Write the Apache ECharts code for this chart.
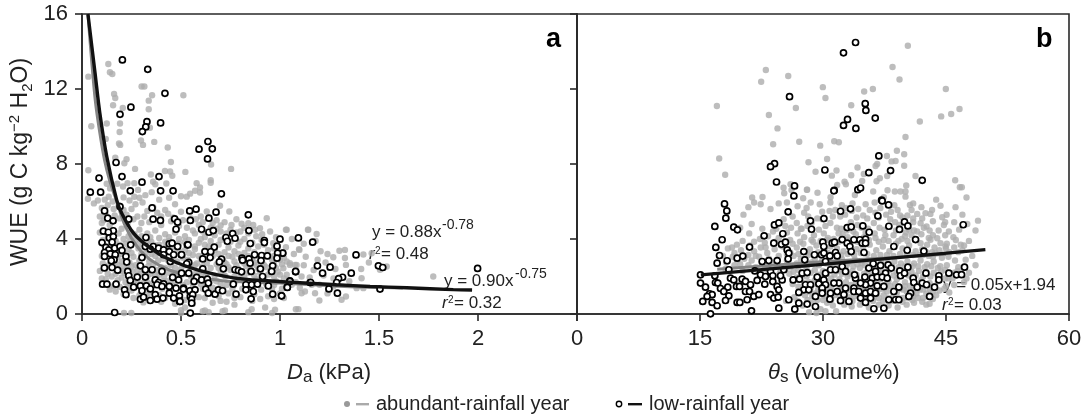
<!DOCTYPE html>
<html><head><meta charset="utf-8">
<style>html,body{margin:0;padding:0;background:#fff}#c{width:1092px;height:416px}</style>
<script src="https://cdn.jsdelivr.net/npm/echarts@6/dist/echarts.min.js"></script>
</head><body><div id="c"></div>
<script>
const xTicksA = ['0','0.5','1','1.5','2',''];
const xTicksB = ['0','15','30','45','60'];
const yTicks = ['0','4','8','12','16'];

const abundantA = [
[.133,13.33],[.032,12.66],[.141,12.89],[.153,12.8],[.301,12.13],[.315,12.13],[.354,11.67],[.512,11.67],[.162,11.74],[.168,11.52],[.337,11.38],[.157,11.13],[.206,10.99],[.337,10.92],[.047,10.01],[.125,10.16],[.192,10.16],[.19,9.71],[.343,9.93],[.298,9.25],[.12,9.34],[.308,9.02],[.365,9.18],[.187,9.09],[.193,9.02],[.433,8.88],[.168,8.34],[.225,8.26],[.214,8.04],[.449,8.11],[.652,7.97],[.032,7.67],[.268,7.74],[.753,7.74],[.522,7.58],[.348,7.44],[.419,7.63],[.445,7.6],[.456,7.37],[.359,7.06],[.579,6.98],[.65,7.14],[.65,7.0],
[.125,6.95],[.142,6.7],[.178,6.95],[.207,6.8],[.23,6.98],[.264,6.98],[.426,6.96],[.37,6.92],[.352,6.5],[.546,6.42],[.596,6.75],[.596,6.48],[.283,6.62],[.264,6.25],[.29,6.2],[.32,6.34],[.5,6.28],[.03,6.15],[.06,5.9],[.08,6.05],[.1,5.65],[.135,6.25],[.155,6.0],[.21,6.22],[.24,6.05],[.27,5.85],[.306,5.95],[.39,6.1],[.44,6.2],[.47,5.85],[.529,6.26],[.571,6.57],[.63,5.47],[.697,5.77],[.744,5.47],[.933,5.11],[.806,4.81],[.84,4.84],[.865,4.75],[.899,4.58],[.874,4.49],[1.03,4.49],[1.143,4.49],[1.034,4.49],[1.141,4.49],[1.185,4.27],
[.12,5.3],[.16,5.6],[.21,5.55],[.25,5.6],[.33,5.5],[.38,5.4],[.42,5.55],[.5,5.45],[.55,5.1],[.6,5.2],[.68,5.0],[.72,4.9],[.78,5.05],[.1,4.85],[.14,4.75],[.19,5.1],[.23,4.85],[.28,5.2],[.3,4.85],[.34,4.9],[.4,4.75],[.45,4.95],[.49,4.7],[.53,4.6],[.59,4.75],[.65,4.62],[.7,4.4],[.75,4.5],[.8,4.4],[.95,4.4],[.09,4.35],[.13,4.2],[.2,4.55],[.25,4.35],[.29,4.5],[.33,4.3],[.37,4.45],[.42,4.25],[.47,4.35],[.52,4.15],[.57,4.3],[.62,4.1],[.67,4.2],[.72,4.05],[.77,4.15],[.82,4.0],[.88,4.15],[.907,3.96],[.966,3.78],[1.096,3.46],[1.03,3.56],[1.098,3.42],[1.205,3.35],[1.3,3.37],[1.328,3.42],[1.269,3.03],[1.328,2.99],[1.421,3.17],[1.463,3.24],[1.449,2.75],[1.333,2.62],[1.017,2.44],[1.05,2.71],[1.084,2.62],[1.539,2.53],[1.505,2.36],[1.774,2.0],[1.412,1.91],[1.109,2.0],[1.034,2.09],[1.387,1.38],[1.421,1.38],[1.109,1.11],[1.126,1.2],[1.177,1.11],[1.199,.72],[1.311,.76],[1.333,.93],[1.093,.26],[1.2,1.56],[1.269,1.47],[1.059,1.56],[1.16,1.56],[1.034,2.8],[1.05,2.62],[1.076,2.62],[1.0,2.89],
[.11,3.7],[.17,3.9],[.22,3.75],[.27,3.95],[.31,3.75],[.35,3.85],[.39,3.7],[.44,3.9],[.49,3.75],[.54,3.65],[.59,3.8],[.64,3.6],[.69,3.7],[.74,3.55],[.79,3.65],[.84,3.5],[.89,3.6],[.94,3.4],[.99,3.3],[.1,3.1],[.15,2.95],[.2,3.2],[.26,3.05],[.32,3.25],[.37,3.1],[.41,2.95],[.46,3.2],[.51,3.0],[.56,3.15],[.6,2.95],[.66,3.1],[.71,2.9],[.76,3.05],[.81,2.8],[.86,2.95],[.91,2.75],[.96,2.9],[1.01,2.65],[.09,2.3],[.13,2.15],[.18,2.6],[.23,2.4],[.27,2.6],[.31,2.45],[.36,2.65],[.4,2.5],[.45,2.6],[.5,2.4],[.55,2.55],[.6,2.3],[.65,2.45],[.7,2.2],[.75,2.35],[.8,2.15],[.85,2.4],[.9,2.2],[.95,2.3],[1.0,2.1],[.12,1.85],[.16,1.5],[.2,1.95],[.24,1.65],[.28,1.8],[.33,1.7],[.38,1.9],[.43,1.75],[.48,1.95],[.53,1.7],[.58,1.85],[.63,1.6],[.68,1.75],[.73,1.55],[.78,1.8],[.83,1.65],[.88,1.85],[.93,1.6],[.98,1.75],[1.03,1.45],[1.08,1.7],[.17,1.2],[.21,1.05],[.25,1.25],[.29,1.0],[.34,1.15],[.39,1.0],[.44,1.2],[.49,.95],[.54,1.1],[.59,.9],[.64,1.15],[.69,.95],[.74,1.1],[.8,.9],[.87,1.05],[.94,.95],[1.0,1.1],[1.02,.85],
[.212,.05],[.249,.05],[.5,.2],[.61,.15],[.64,.1],[.71,.15],[.77,.5],[.84,.1],[.925,.35],[.96,.05],[1.08,.25],[.5,.05],[.52,.35],[.31,.62],[.4,.65],[.47,.55],[.56,.55],[.66,.6],[.73,.65],[.86,.7],[.621,.19],[.722,.19],[.857,.26],[.975,.23],
[.115,6.1],[.13,5.8],[.09,5.2],[.11,5.0],[.165,5.25],[.185,5.8],[.225,5.3],[.26,5.05],[.315,5.2],[.36,5.7],[.4,5.2],[.435,5.35],[.46,5.15],[.51,5.0],[.575,5.05],[.61,4.9],[.66,4.85],[.7,4.72],[.755,4.75],[.82,4.6],[.105,3.95],[.125,3.35],[.185,4.3],[.21,4.0],[.235,4.15],[.265,4.25],[.3,4.15],[.345,4.1],[.39,4.05],[.44,4.1],[.49,4.0],[.54,3.95],[.6,4.0],[.65,3.9],[.7,3.95],[.75,3.85],[.8,3.85],[.86,3.8],[.92,3.7],[.97,3.5],[1.02,3.0],[.175,3.4],[.235,3.45],[.285,3.5],[.33,3.45],[.37,3.4],[.42,3.55],[.47,3.5],[.52,3.4],[.57,3.45],[.62,3.35],[.67,3.4],[.72,3.3],[.77,3.35],[.82,3.25],[.87,3.3],[.925,3.15],[.97,3.1],[.105,2.7],[.135,2.6],[.2,2.8],[.24,2.75],[.29,2.85],[.34,2.8],[.385,2.85],[.435,2.85],[.48,2.8],[.535,2.9],[.58,2.7],[.63,2.7],[.68,2.65],[.73,2.65],[.78,2.6],[.83,2.55],[.88,2.6],[.93,2.5],[.98,2.45],[.1,1.9],[.15,2.0],[.215,2.2],[.255,2.25],[.295,2.15],[.345,2.15],[.39,2.1],[.44,2.2],[.485,2.2],[.525,2.15],[.575,2.15],[.625,2.1],[.67,2.05],[.725,2.0],[.77,2.0],[.82,1.95],[.87,2.05],[.92,1.95],[.97,2.0],[1.02,1.9],[.14,1.3],[.19,1.45],[.23,1.45],[.27,1.5],[.31,1.35],[.355,1.45],[.405,1.35],[.455,1.5],[.51,1.25],[.56,1.45],[.61,1.35],[.66,1.4],[.71,1.35],[.76,1.35],[.81,1.35],[.85,1.45],[.905,1.3],[.96,1.35],[1.01,1.35],[.26,.85],[.33,.85],[.42,.85],[.52,.75],[.62,.85],[.7,.7],[.77,.85],[.9,.8],[.97,.8],
[.56,4.45],[.61,4.4],[.68,4.55],[.73,4.3],[.78,4.35],[.84,4.3],[.91,4.25],[.98,4.1],[1.06,4.0],[1.12,3.75],[1.18,3.9],[1.07,3.2],[1.13,3.05],[1.19,2.9],[1.24,3.2],[1.12,2.6],[1.17,2.35],[1.23,2.75],[1.28,2.4],[1.1,1.4],[1.15,1.95],[1.22,2.05],[1.27,1.9],[1.35,1.75],[1.41,2.4],[1.24,1.1],[.62,3.7],[.57,3.6],[.52,3.85],[.47,3.7],[.42,3.85],[.37,3.65],[.33,3.9],[.29,3.75],[.24,3.85],[.19,3.7],[.59,3.1],[.54,3.25],[.49,3.35],[.44,3.3],[.39,3.25],[.35,3.2],[.3,3.2],[.25,3.25],[.22,2.95],[.18,3.05],[.61,2.55],[.57,2.6],[.52,2.6],[.47,2.45],[.42,2.45],[.38,2.35],[.335,2.55],[.28,2.35],[.25,2.55],[.21,2.55],[.63,2.2],[.6,2.05],[.55,2.0],[.5,2.1],[.46,2.1],[.415,2.0],[.37,2.05],[.33,2.0],[.28,2.05],[.24,2.1],[.2,2.3],[.17,2.15],[.6,1.6],[.56,1.65],[.51,1.55],[.46,1.65],[.41,1.75],[.36,1.65],[.31,1.65],[.26,1.7],[.22,1.7],[.18,1.8],[.74,3.1],[.79,3.2],[.84,3.1],[.89,3.1],[.95,3.05],[.69,3.2],[.64,3.25],[.72,2.75],[.77,2.8],[.82,2.7],[.87,2.75],[.92,2.6],[.97,2.65],[.69,2.45],[.74,2.5],[.79,2.4],[.84,2.2],[.89,2.4],[.94,2.1],[.99,2.25],[.72,2.05],[.77,1.7],[.82,1.75],[.87,1.7],[.92,1.8],[.97,1.55],[.7,1.6],[.65,1.75]
];
const lowA = [
[.204,13.55],[.332,13.05],[.419,11.77],[.247,11.03],[.192,10.65],[.328,10.26],[.397,10.19],[.322,9.98],[.305,9.73],[.636,9.2],[.591,8.79],[.658,8.81],[.634,8.27],[.172,8.08],[.389,7.33],[.202,7.33],[.086,7.25],[.303,7.03],[.042,6.5],[.094,6.5],[.244,6.57],[.397,6.57],[.46,6.57],[.704,6.41],
[.114,5.5],[.13,5.11],[.157,4.97],[.192,5.73],[.236,5.06],[.354,5.66],[.359,5.06],[.396,4.99],[.468,5.07],[.483,4.9],[.544,5.5],[.576,5.59],[.677,5.43],[.641,5.11],[.547,4.99],[.475,4.52],[.84,5.29],[.604,4.52],[.641,4.36],[.663,4.45],[.843,4.45],[.761,4.29],[.727,4.08],[.734,3.88],[.773,4.04],[.532,3.69],[.85,3.76],[.921,3.92],[.921,3.81],[1.0,3.99],[1.093,4.06],[1.165,3.83],[1.013,3.24],[1.384,3.15],[1.189,2.57],[1.253,2.5],[1.497,2.57],[1.519,2.48],[1.079,2.25],[1.215,2.18],[1.36,2.18],[1.316,1.96],[1.296,1.89],[1.998,2.43],[1.05,1.77],[1.152,1.68],[1.286,1.68],[1.037,1.43],[1.247,1.34],[1.505,1.33],[1.29,1.11],[1.008,.97],
[.108,4.42],[.158,4.44],[.133,4.36],[.138,4.06],[.158,4.13],[.101,3.81],[.152,3.83],[.121,3.55],[.135,3.42],[.165,3.51],[.192,3.6],[.202,3.39],[.114,3.28],[.143,3.21],[.168,3.16],[.114,3.07],[.162,2.89],[.148,2.84],[.222,3.07],[.226,2.77],[.113,2.46],[.152,2.48],[.18,2.34],[.246,3.69],[.323,4.08],[.36,3.6],[.387,3.51],[.412,3.42],[.441,3.74],[.455,3.78],[.483,3.6],[.535,3.69],[.441,3.33],[.412,3.16],[.463,3.16],[.502,3.16],[.32,3.6],[.345,3.46],[.303,3.01],[.446,2.8],[.539,2.75],[.295,2.57],[.32,2.36],[.354,2.36],[.404,2.27],[.231,2.27],[.236,2.04],[.244,1.79],[.279,1.97],[.32,1.97],[.37,1.82],[.387,1.68],[.412,1.61],[.458,1.95],[.488,1.82],[.513,1.38],[.539,2.18],[.104,1.59],[.126,1.59],[.172,1.59],[.215,1.29],[.222,1.03],[.261,1.43],[.295,1.5],[.325,1.5],[.303,1.24],[.345,1.34],[.379,1.56],[.404,1.47],[.441,1.47],[.475,1.38],[.295,.79],[.311,.9],[.345,.72],[.37,1.03],[.379,.79],[.409,.85],[.441,1.11],[.463,.85],[.492,.97],[.493,.67],[.547,1.2],[.547,.92],[.165,.08],[.547,.05],
[.668,3.57],[.621,3.33],[.65,3.32],[.503,3.16],[.61,2.94],[.647,3.01],[.705,2.93],[.694,2.78],[.808,2.98],[.811,2.87],[.843,2.94],[.872,3.16],[.907,3.12],[.936,3.1],[.904,2.85],[.849,2.71],[.985,3.62],[1.014,3.25],[.988,3.25],[.985,2.98],[.963,2.57],[.958,2.27],[.901,2.41],[.854,2.27],[1.079,2.27],[.529,2.68],[.61,2.41],[.714,2.41],[.773,2.36],[.79,2.32],[.806,2.25],[.912,2.0],[1.05,1.74],[1.155,1.68],[.503,2.18],[.579,1.95],[.566,1.74],[.604,1.82],[.633,1.86],[.638,1.65],[.764,1.59],[.828,1.56],[.857,1.56],[.886,1.59],[.941,1.5],[1.037,1.42],[.512,1.33],[.545,1.24],[.571,1.29],[.625,1.33],[.638,1.11],[.672,1.06],[.689,1.29],[.71,1.24],[.778,1.06],[.828,1.29],[.865,1.2],[.854,.81],[.963,1.06],[1.008,.97],[.559,1.03],[.554,.79],[.554,.58],[.495,.67]
];
const abundantCurveA = [[.03,16],[.048,13.6],[.067,11.4],[.088,9.8],[.114,8.2],[.14,7.1],[.167,6.26],[.219,4.67],[.278,3.6],[.345,2.89],[.438,2.36],[.556,2.0],[.621,1.9],[.747,1.74],[1.0,1.65],[1.3,1.48],[1.62,1.38]];
const lowCurveA = [[.03,16],[.066,12.84],[.09,10.72],[.125,8.4],[.175,6.09],[.2,5.39],[.259,4.33],[.343,3.53],[.444,2.89],[.596,2.31],[.764,1.93],[.934,1.77],[1.10,1.67],[1.285,1.56],[1.455,1.47],[1.64,1.4],[1.875,1.3],[1.97,1.28]];

const abundantB = [
[23.03,13.01],[25.76,12.69],[22.46,12.39],[29.98,12.1],[30.3,11.52],[17.06,11.09],[26.69,10.99],[23.4,10.61],[24.45,9.9],[23.92,9.05],[27.1,9.19],[29.66,8.98],[30.5,8.27],[17.34,8.29],[18.07,7.43],[28.23,8.09],[29.09,7.59],[25.19,6.74],[26.04,6.92],[25.27,6.44],[26.16,6.62],[28.07,6.63],[29.33,6.47],[21.36,6.21],[22.62,6.24],[27.58,6.17],
[40.35,14.31],[38.48,13.17],[39.33,12.51],[36.08,12.0],[35.02,11.87],[44.98,12.0],[33.44,11.13],[46.65,10.93],[45.63,10.67],[44.41,10.54],[41.81,10.27],[40.06,9.44],[31.37,9.21],[31.93,9.16],[39.01,8.71],[37.79,8.43],[39.9,8.52],[38.85,8.16],[38.36,8.14],[36.61,8.0],[36.41,7.89],[39.9,7.91],[34.21,7.81],[31.65,7.65],[31.08,7.38],[34.98,7.47],[33.44,7.4],[41.28,7.36],[36.93,7.24],[36.53,7.08],[37.83,7.36],[32.63,7.06],[32.79,6.92],[46.12,7.13],[46.69,6.76],[46.93,6.76],[31.73,6.88],[40.15,6.85],[34.78,7.1],[28.03,6.63],[36.12,6.53],[37.87,6.6],[38.76,6.53],[39.45,6.53],[40.06,6.53],[33.89,6.35],[40.06,6.26],[30.92,6.23],[37.42,6.23],
[47.5,6.21],[43.8,6.1],[40.6,5.82],[44.33,5.77],[41.49,5.34],[42.5,5.38],[43.1,5.34],[46.16,5.7],[45.07,5.29],[44.54,5.16],[48.9,4.98],[48.6,4.45],[45.35,4.4],[44.74,4.75],[42.63,4.67],[41.9,4.84],[41.49,4.4],[43.93,4.04],[43.11,3.96],[44.33,3.78],[44.94,3.6],[42.7,3.69],[41.9,3.78],[47.8,3.9],[46.5,3.3],[48.2,3.1],[47.4,2.9],[48.6,2.6],
[20.9,5.7],[21.6,5.95],[22.4,5.85],[24.6,5.9],[25.6,5.95],[28.5,5.95],[29.6,5.85],[30.9,5.95],[32.3,5.8],[33.6,5.9],[35.2,5.85],[36.3,5.95],[38.7,5.8],[41,5.9],[20.3,5.3],[23.6,5.6],[26.3,5.2],[27.7,5.4],[29.3,5.1],[30.8,5.5],[32.1,5.2],[33.5,5.5],[34.9,5.25],[36.4,5.4],[37.7,5.3],[39.1,5.55],[40.3,5.25],[21.3,4.8],[25.4,4.7],[26.8,4.85],[28.1,4.7],[29.5,4.5],[30.9,4.85],[32.2,4.55],[33.4,4.9],[34.7,4.6],[36.2,4.85],[37.5,4.5],[38.8,4.9],[40.5,4.5],[41,4.9],[43,4.45],[18.9,3.55],[19.5,3.7],[20.2,3.9],[21.6,3.85],[22.3,4.0],[23.3,4.15],[24.6,4.05],[26,3.95],[26.9,4.3],[27.7,4.1],[28.9,4.2],[30.1,4.3],[31.3,4.0],[32.4,4.25],[33.7,4.4],[35,4.1],[36.3,4.3],[37.4,3.95],[38.6,4.2],[39.6,4.0],[40.8,4.2],[43.3,3.3],[45.4,3.3],
[17.8,3.1],[18.4,3.5],[19.2,3.25],[20,3.4],[20.9,3.15],[21.6,3.35],[22.4,3.55],[23.2,3.25],[24.1,3.45],[25.1,3.6],[26,3.3],[26.8,3.55],[27.6,3.75],[28.4,3.45],[29.2,3.65],[30.2,3.45],[30.9,3.6],[31.7,3.5],[32.5,3.35],[33.3,3.7],[34.1,3.45],[34.9,3.55],[35.7,3.7],[36.5,3.4],[37.3,3.6],[38.1,3.35],[38.9,3.75],[39.7,3.5],[40.5,3.65],[41.3,3.35],[42.1,3.45],[42.9,3.1],[43.7,3.25],[44.5,3.0],[45.3,3.05],[46.1,2.85],[47,3.4],
[18.2,2.75],[19.5,2.9],[20.4,2.95],[21.3,2.85],[22.2,3.05],[23.4,2.95],[24.6,3.1],[25.6,2.85],[26.4,3.1],[27.3,2.95],[28.2,3.15],[29,2.95],[29.9,2.85],[30.7,3.0],[31.5,2.7],[32.3,2.95],[33.1,2.75],[33.9,2.9],[34.7,2.7],[35.5,2.85],[36.3,2.7],[37.1,2.85],[37.9,2.75],[38.7,2.8],[39.5,2.7],[40.3,2.8],[41.1,2.7],[41.9,2.85],[42.7,2.65],[43.5,2.8],[44.3,2.55],[45.1,2.6],[46.5,2.5],[47.8,2.2],
[20.2,2.3],[21.8,2.5],[23.4,2.35],[24.8,2.4],[26,2.5],[27,2.35],[28,2.5],[29,2.35],[30,2.3],[30.9,2.45],[31.8,2.3],[32.7,2.5],[33.6,2.3],[34.5,2.45],[35.4,2.25],[36.3,2.4],[37.2,2.25],[38.1,2.35],[39,2.2],[39.9,2.3],[40.8,2.25],[41.7,2.3],[42.6,2.25],[43.5,2.2],[44.4,2.25],[45.3,1.9],[46.4,2.3],[47.2,1.7],
[26.8,1.95],[28,2],[29,1.8],[30,1.95],[31,1.9],[32,1.85],[33,2],[34,1.85],[35,1.9],[36,1.75],[37,1.85],[38,1.75],[39,1.85],[40,1.7],[41,1.75],[42,1.8],[43,1.65],[44,1.75],[45,1.5],[46,1.55],[28.5,1.4],[29.7,1.55],[31,1.45],[32.2,1.5],[33.4,1.55],[34.6,1.4],[35.8,1.45],[37,1.35],[38.2,1.5],[39.4,1.35],[40.6,1.5],[41.8,1.3],[43,1.35],[44.2,1.25],[45.4,1.15],
[26.5,.9],[27.8,1.0],[29,1.1],[30.2,.95],[31.4,1.0],[32.6,.9],[33.8,.95],[35,.85],[36.2,.9],[37.4,1.0],[38.6,.95],[39.8,.85],[41,.95],[42.2,.85],[43.4,.8],[27.5,.45],[28.6,.6],[29.7,.25],[30.5,.6],[31.2,.45],[32.6,.5],[33.5,.4],[34.5,.5],[35.6,.35],[36.8,.5],[38,.45],[39.1,.35],[40.2,.5],[41.1,.6],[42.6,.5],[24.5,1.2],[25.5,.7],[28.3,.1],[29.2,.05],[30.3,.15],[31.6,.15],
[25.2,5.05],[26.9,5.75],[28.2,5.2],[29.9,5.45],[31.5,5.55],[32.8,5.65],[34.3,5.6],[35.7,5.55],[37,5.65],[38.3,5.45],[39.7,5.15],[41,5.1],[42.1,5.1],[43.4,4.95],[23.9,4.4],[25.6,4.35],[27.3,4.55],[28.6,4.85],[30.3,4.7],[31.7,4.6],[33,4.1],[34.2,4.75],[35.5,4.55],[36.9,4.6],[38.1,4.65],[39.3,4.75],[40.1,4.35],[42,4.25],[42.9,4.05],[44.1,4.45],[45.9,4.1],[46.8,3.7],[21,4.3],[19.9,4.6],[22.6,4.55],[24.9,3.65],[26.3,3.75],[27.2,3.85],[28.8,3.85],[29.7,3.9],[30.5,3.95],[31.9,3.85],[33,3.95],[34.2,3.85],[35.6,3.95],[36.8,3.85],[38,3.9],[39.2,3.9],[40.3,3.9],[41.3,3.95],[42.2,3.15],[43.6,3.55],[45.1,3.75],[46.2,3.95],[18.1,2.4],[19.2,2.6],[20.9,2.6],[22.6,2.75],[24.2,2.65],[25.5,2.45],[26.8,2.7],[27.7,2.6],[28.6,2.75],[29.5,2.6],[30.4,2.7],[31.2,2.55],[32,2.65],[32.9,2.6],[33.7,2.55],[34.2,2.65],[35.1,2.6],[36,2.55],[36.8,2.55],[37.6,2.6],[38.4,2.55],[39.2,2.5],[40,2.55],[40.9,2.55],[41.6,2.55],[42.4,2.5],[43.2,2.55],[44,2.45],[44.9,2.35],[46,2.2],[47.5,1.9],[25.9,2.15],[27.5,2.1],[28.5,2.2],[29.5,2.1],[30.5,2.15],[31.4,2.1],[32.3,2.15],[33.2,2.15],[34.1,2.1],[35,2.15],[35.9,2.05],[36.8,2.1],[37.7,2.05],[38.6,2.05],[39.5,2.05],[40.4,2.05],[41.3,2.05],[42.2,2.0],[43.1,2.0],[44,2.0],[44.9,1.9],[45.8,1.9],[27.7,1.65],[28.9,1.6],[30.4,1.7],[31.6,1.7],[32.8,1.7],[34,1.6],[35.2,1.65],[36.4,1.6],[37.6,1.55],[38.8,1.6],[40,1.5],[41.2,1.55],[42.4,1.55],[43.6,1.5],[44.8,1.35],[28.2,1.2],[29.4,1.3],[30.6,1.2],[31.8,1.25],[33,1.25],[34.2,1.15],[35.4,1.2],[36.6,1.15],[37.8,1.2],[39,1.15],[40.2,1.2],[41.4,1.1],[42.6,1.1],[43.8,1.0],[26.9,.7],[28.1,.75],[29.3,.75],[31,.75],[32.3,.7],[33.6,.7],[34.9,.65],[36.1,.7],[37.3,.7],[38.5,.7],[39.7,.65],[40.9,.75],[42.1,.65],
[21.1,3.65],[22.9,3.8],[24.2,3.85],[25.6,3.2],[27,3.2],[28.1,3.3],[29.4,3.3],[30.6,3.25],[31.4,3.25],[32.2,3.15],[33,3.2],[33.8,3.15],[34.6,3.25],[35.4,3.2],[36.2,3.1],[37,3.15],[37.8,3.15],[38.6,3.1],[39.4,3.2],[40.2,3.2],[41,3.15],[41.8,3.15],[42.6,3.3],[43.4,3.05],[44.2,3.4],[45,3.5],[46,3.55],[47.2,3.65],[30.6,4.05],[31.9,4.3],[32.9,4.45],[34,4.25],[35.2,4.35],[36.4,4.05],[37.6,4.2],[38.9,4.45],[40,4.15],[41.1,4.45],[42.3,4.6],[43.4,4.2],[44.9,4.2],[46.6,4.5],[47.6,4.8],[28,5.65],[29.9,5.05],[31.2,5.2],[32.7,5.3],[34.1,5.15],[35.4,5.1],[36.8,5.15],[38.2,5.05],[39.4,5.25],[40.8,5.55],[42,5.7],[43.3,5.55],[44.9,4.9],[46,4.9],[47,5.3],[28.6,3.95],[27.4,4.55],[26.1,4.6],[24.3,4.55],[23,3.55],[21.8,3.1],[20.4,3.05],[19,3.05],[19.9,2.65],[22.9,2.4],[24.7,2.15],[26.4,2.25],[26.3,1.6],[27,1.45],[28.3,1.7],[29.8,1.7],[31.2,1.65],[32.3,1.35],[33.6,1.35],[34.9,1.35],[36.1,1.3],[37.4,1.35],[38.6,1.3],[39.8,1.3],[41,1.3],[42.2,1.3],[43.4,1.2],[30.1,1.25],[31.2,1.2],[27.1,1.1],[28.7,.95],[30,.75],[32,.95],[33.2,.9],[34.4,.95],[35.6,.9],[36.8,.85],[38,.85],[39.2,.85],[40.4,.85],[41.6,.85],[43,.55]
];
const lowB = [
[25.92,11.59],[24.09,8.02],[23.6,7.86],[30.23,7.68],[24.33,7.04],[26.53,6.83],[26.45,6.3],[33.97,14.48],[32.5,13.93],[35.15,11.22],[35.23,10.86],[36.37,10.45],[32.99,10.38],[32.5,10.06],[34.01,9.9],[36.81,8.43],[38.24,7.65],[35.59,7.54],[42.1,7.13],[31.37,6.6],[34.25,6.63],[34.58,6.72],[37.14,6.08],
[17.99,5.87],[18.27,5.5],[18.15,5.11],[25.75,5.45],[16.81,4.67],[19.12,4.63],[19.57,4.49],[24.08,4.75],[24.61,4.86],[28.47,4.97],[28.6,4.52],[25.1,4.28],[22.82,4.17],[17.7,3.96],[24.0,3.78],[24.94,3.72],[25.42,3.83],[29.98,3.83],[30.1,3.6],[16.93,3.55],[21.04,3.57],[17.38,3.12],[19.53,2.98],[20.22,3.09],[25.63,3.42],[25.83,3.25],[27.66,3.33],[28.96,3.16],[29.82,3.16],[17.09,2.71],[18.31,2.84],[22.58,2.8],[23.39,2.85],[24.41,2.85],[25.75,2.94],[27.78,2.89],
[15.06,2.09],[15.06,1.65],[15.67,1.43],[16.81,2.04],[16.89,1.68],[17.17,1.65],[17.5,1.36],[16.16,1.08],[16.48,1.03],[15.87,.94],[15.34,.67],[16.48,.62],[17.09,.44],[16.28,.01],[18.52,2.36],[18.72,1.91],[19.12,1.82],[18.39,1.43],[19.45,1.47],[19.82,1.47],[17.9,1.2],[18.52,.97],[18.11,.72],[19.53,.62],[19.86,.62],[20.75,.76],[21.28,.17],[20.14,1.86],[20.55,1.74],[20.55,1.2],[21.16,1.56],[21.04,1.2],[21.56,.94],[22.17,1.03],[21.97,1.79],[21.69,2.3],[22.38,2.09],[22.99,2.0],[23.6,2.27],[23.88,2.04],[22.9,1.59],[23.88,1.73],[24.41,1.47],[24.61,1.29],[23.6,1.03],[24.0,.85],[24.53,.9],[25.02,1.82],[25.22,2.36],[24.82,2.04],[26.36,1.82],[27.13,1.86],[27.46,2.18],[28.07,2.21],[27.87,1.56],[28.47,1.56],[27.66,1.29],[28.27,1.29],[27.05,1.15],[29.08,.94],[25.83,.76],[27.05,.58],[28.07,.53],[29.08,.4],[26.56,.26],[24.61,.31],[29.29,1.97],[29.49,1.61],[30.1,1.82],[29.9,1.29],
[31.33,6.57],[37.22,6.03],[38.0,5.82],[32.14,5.48],[33.36,5.61],[36.69,5.23],[30.11,5.09],[32.95,4.61],[33.44,4.65],[34.86,4.7],[38.03,4.68],[39.94,4.91],[40.35,4.7],[39.33,4.51],[35.63,4.36],[41.29,3.97],[32.34,3.97],[33.77,3.96],[34.5,3.96],[38.64,3.6],[40.27,3.4],[42.3,3.35],[31.12,3.78],[31.41,3.83],[32.95,3.78],[33.28,3.6],[35.19,3.99],[34.78,3.78],[35.19,3.78],[33.44,3.33],[35,3.28],[30.11,3.25],[30.84,3.1],[31.53,3.28],[31.73,3.1],[36.12,2.68],[32.34,2.53],[30.31,2.8],[30.31,2.18],[30.92,2.36],[31.53,2.36],[32.75,2.27],[35.59,2.45],[37.02,2.59],[37.95,2.62],[40.35,2.5],[39.37,2.3],[38.32,2.45],[37.63,2.18],[36.41,2.27],[35.11,1.97],[33.97,1.91],[33.85,2.09],[36.0,1.91],[36.61,1.97],[37.22,1.97],[37.83,1.91],[39.46,2.04],[39.94,2.18],[41.0,1.91],[41.08,1.68],[42.55,2.18],[42.1,1.65],[42.63,1.56],[44.13,2.04],[44.13,1.82],[43.6,1.43],[45.35,2.18],[46.29,2.09],[46.9,2.1],[47.26,2.5],[47.1,4.76],[41.49,1.43],[39.25,1.43],[37.42,1.47],[36.61,1.5],[35.8,1.65],[35.19,1.56],[34.58,1.65],[33.77,1.38],[32.75,1.38],[31.94,1.65],[31.33,1.65],[30.31,1.56],[29.9,1.38],[29.9,1.11],[30.92,1.11],[31.73,1.2],[32.55,1.03],[33.77,1.2],[34.37,1.2],[35.19,1.11],[35.8,1.2],[36.41,1.11],[33.16,.67],[34.58,.85],[35.19,.62],[35.8,.85],[30.84,.79],[32.14,.71],[38.03,.76],[38.85,.76],[39.25,.76],[40.68,1.11],[40.47,.94],[38.64,1.2],[43,.94],[36.2,.28],[37.42,.31]
];
const abundantLineB = [[17.1,2.39],[30.3,2.8],[45,3.18]];
const lowLineB = [[15.1,2.09],[30.3,2.66],[49.8,3.43]];

const AXIS = '#2a2a2a', TXT = '#222', GREY = '#adadad', LINEGREY = '#858585', FONT = '"Liberation Sans", Arial, sans-serif';
function axisBase(){return {
  axisLine:{show:true,onZero:false,lineStyle:{color:AXIS,width:1.6}},
  axisTick:{show:true,inside:false,length:7,lineStyle:{color:AXIS,width:1.6}},
  splitLine:{show:false},
};}
function labels(list,step){return {show:true,color:TXT,fontSize:22,fontFamily:FONT,margin:14,
  formatter:v=>{const s=list[Math.round(v/step)];return s===undefined?'':s;}};}
function points(data,ax,name){return {type:'scatter',name,xAxisIndex:ax,yAxisIndex:ax,data,symbol:'circle',symbolSize:6.4,itemStyle:{color:GREY},z:2,silent:true,animation:false,large:false};}
function rings(data,ax,name){return {type:'scatter',name,xAxisIndex:ax,yAxisIndex:ax,data,symbol:'circle',symbolSize:6,itemStyle:{color:'#fff',borderColor:'#000',borderWidth:1.7,opacity:1},z:4,silent:true,animation:false,large:false};}
function curve(data,ax,color,w,z,smooth){return {type:'line',xAxisIndex:ax,yAxisIndex:ax,data,symbol:'none',smooth,lineStyle:{color,width:w},z,silent:true,animation:false};}

function t(x,y,text,o){return {type:'text',x,y,silent:true,style:Object.assign({text,fill:TXT,fontFamily:FONT,fontSize:17,verticalAlign:'middle'},o||{})};}
const RI = {i:{fontStyle:'italic',fontSize:22,fontFamily:FONT,fill:TXT},s:{fontSize:17,fontFamily:FONT,fill:TXT,verticalAlign:'bottom',lineHeight:26}};

const option = {
  backgroundColor:'#fff',animation:false,
  grid:[
    {left:82,top:14,width:495,height:300,show:true,borderColor:AXIS,borderWidth:1.6,backgroundColor:'transparent'},
    {left:577,top:14,width:492,height:300,show:true,borderColor:AXIS,borderWidth:1.6,backgroundColor:'transparent'}
  ],
  xAxis:[
    Object.assign(axisBase(),{gridIndex:0,type:'value',min:0,max:2.5,interval:.5,axisLabel:labels(xTicksA,.5)}),
    Object.assign(axisBase(),{gridIndex:1,type:'value',min:0,max:60,interval:15,axisLabel:labels(xTicksB,15)})
  ],
  yAxis:[
    Object.assign(axisBase(),{gridIndex:0,type:'value',min:0,max:16,interval:4,axisLabel:labels(yTicks,4)}),
    Object.assign(axisBase(),{gridIndex:1,type:'value',min:0,max:16,interval:4,axisLabel:{show:false}})
  ],
  series:[
    points(abundantA,0,'abundant-rainfall year'),
    curve(abundantCurveA,0,LINEGREY,3,3,.3),
    rings(lowA,0,'low-rainfall year'),
    curve(lowCurveA,0,'#111',3.4,5,.3),
    points(abundantB,1,'abundant-rainfall year'),
    curve(abundantLineB,1,LINEGREY,3,3,false),
    rings(lowB,1,'low-rainfall year'),
    curve(lowLineB,1,'#111',3.2,5,false)
  ],
  graphic:{elements:[
    {type:'text',x:21,y:162,rotation:Math.PI/2,silent:true,style:{
      text:'WUE (g C kg{sup|−2} H{sub|2}O)',fill:TXT,fontFamily:FONT,fontSize:23,align:'center',verticalAlign:'middle',lineHeight:28,
      rich:{sup:{fontSize:15,verticalAlign:'top',fill:TXT,fontFamily:FONT,lineHeight:28},sub:{fontSize:15,verticalAlign:'bottom',fill:TXT,fontFamily:FONT,lineHeight:28}}}},
    t(287,373,'{i|D}{s|a} (kPa)',{fontSize:22,rich:RI}),
    t(768,373,'{i|θ}{s|s} (volume%)',{fontSize:22,rich:RI}),
    t(546,40,'a',{fontSize:27,fontWeight:'bold',fill:'#000'}),
    t(1036,40,'b',{fontSize:27,fontWeight:'bold',fill:'#000'}),
    t(372,232,'y = 0.88x'),t(442,225,'-0.78',{fontSize:14}),
    t(369,254,'r',{fontStyle:'italic'}),t(375,251,'2',{fontSize:10}),t(381,254,'= 0.48'),
    t(444,281,'y = 0.90x'),t(515,274,'-0.75',{fontSize:14}),
    t(442,303,'r',{fontStyle:'italic'}),t(448,300,'2',{fontSize:10}),t(454,303,'= 0.32'),
    t(943,285,'y = 0.05x+1.94'),
    t(942,305,'r',{fontStyle:'italic'}),t(948,302,'2',{fontSize:10}),t(954,305,'= 0.03'),
    {type:'circle',silent:true,shape:{cx:347,cy:404,r:3},style:{fill:'#999'}},
    {type:'rect',silent:true,shape:{x:356,y:403,width:13,height:2.4},style:{fill:'#aaa'}},
    t(376,404,'abundant-rainfall year',{fontSize:20}),
    {type:'circle',silent:true,shape:{cx:619,cy:404,r:2.7},style:{fill:'#fff',stroke:'#000',lineWidth:1.4}},
    {type:'rect',silent:true,shape:{x:628,y:403,width:14,height:2.4},style:{fill:'#111'}},
    t(649,404,'low-rainfall year',{fontSize:20})
  ]}
};
const chart = echarts.init(document.getElementById('c'),null,{renderer:'canvas'});
chart.setOption(option);
</script></body></html>
